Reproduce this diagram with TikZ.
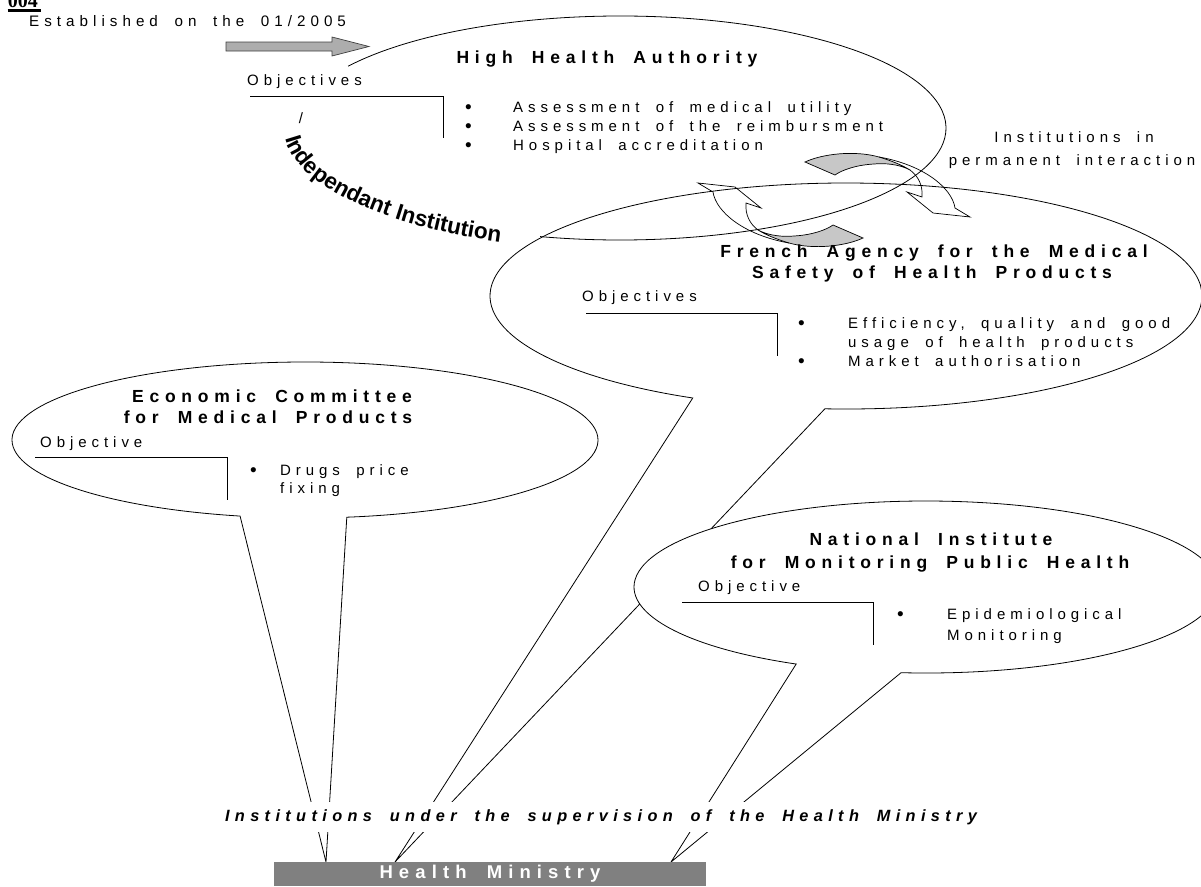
\documentclass[tikz,border=0pt]{standalone}
\usepackage{fontspec}
\setmainfont{Liberation Sans}
\newfontfamily\spacedfont[LetterSpace=33, WordSpace=1.8]{Liberation Sans}
\newfontfamily\yearfont{Liberation Serif}
\usetikzlibrary{decorations.text}

\tikzset{
  body/.style={font=\spacedfont\fontsize{15}{19}\selectfont, inner sep=0pt},
  dot/.style={font=\fontsize{19}{19}\selectfont, inner sep=0pt},
  title/.style={font=\spacedfont\bfseries\fontsize{17.5}{21}\selectfont, inner sep=0pt},
  balloon/.style={draw, line width=0.8pt},
  frame/.style={draw, line width=1pt},
}

\begin{document}
\begin{tikzpicture}[x=1pt,y=1pt]
\useasboundingbox (0,0) rectangle (1201,-886);

% Centres des bulles et pointes
\coordinate (hha-c) at (620,-128);
\coordinate (fa-c) at (846,-296);
\coordinate (ecmp-c) at (305,-440);
\coordinate (nimph-c) at (926,-587);
\coordinate (ecmp-tip) at (326,-862);
\coordinate (fa-tip) at (395,-862);
\coordinate (nimph-tip) at (671,-862);

% Bulles
\draw[balloon] ([shift={(146.5:326 and 112)}]hha-c) arc[start angle=146.5, end angle=-104.2, x radius=326, y radius=112];
\draw[balloon] ([shift={(-93.4:356 and 113)}]fa-c) arc[start angle=-93.4, end angle=244.5, x radius=356, y radius=113] -- (fa-tip) -- cycle;
\draw[balloon, fill=white] ([shift={(-81.8:293 and 78)}]ecmp-c) arc[start angle=-81.8, end angle=257.2, x radius=293, y radius=78] -- (ecmp-tip) -- cycle;
\draw[balloon, fill=white] ([shift={(-94.9:292 and 86)}]nimph-c) arc[start angle=-94.9, end angle=243.6, x radius=292, y radius=86] -- (nimph-tip) -- cycle;

\path[decorate, decoration={text along path, text align=left,
  text={|\bfseries\fontsize{22.5}{26}\selectfont|Independant Institution}}]
  ([shift={(185:336 and 122)}]hha-c) arc[start angle=185, end angle=265, x radius=336, y radius=122];

% Fleches courbes
\foreach \rot in {0,180}{
\begin{scope}[shift={(834,-200)}, rotate=\rot, line width=0.7pt]
  \filldraw[fill=black!22] (-29,38) .. controls (-12,46) and (20,50) .. (45,43) .. controls (58,39) and (68,35) .. (76,30)
    .. controls (65,36) and (50,37) .. (40,36) .. controls (22,35) and (8,30) .. (1,25) -- cycle;
  \draw (45,43) .. controls (90,35) and (118,12) .. (121,-8) -- (136,-17) -- (99,-13) -- (73,8) -- (88,3)
    .. controls (89,15) and (84,24) .. (76,30);
\end{scope}
}

% Fleche grise
\filldraw[fill=black!32, draw=black!75, line width=0.7pt] (226,-42) -- (332,-42) -- (332,-37) -- (369,-46.5) -- (332,-56) -- (332,-51) -- (226,-51) -- cycle;

\node[anchor=base east, inner sep=0pt, font=\yearfont\bfseries\fontsize{20}{22}\selectfont] (year) at (38,-7) {004};
\draw[line width=2.5] ([yshift=-3.5]year.base west) -- ([xshift=3, yshift=-3.5]year.base east);
\node[anchor=base west, font=\spacedfont\fontsize{15.2}{19}\selectfont, inner sep=0pt] (established) at (29,-26.5) {Established on the 01/2005};

% High Health Authority
\node[title, anchor=base] (hha) at (607,-63) {High Health Authority};
\node[body, anchor=base west] (hha-obj) at (247,-85) {Objectives};
\draw[frame] (250,-96) -| (443,-138);
\node[font=\fontsize{15}{18}\selectfont, inner sep=0pt] (slash) at (301,-118) {/};
\node[dot, anchor=base west] (hha-d1) at (465,-113.5) {\textbullet};
\node[dot, anchor=base west] (hha-d2) at (465,-132.5) {\textbullet};
\node[dot, anchor=base west] (hha-d3) at (465,-151.5) {\textbullet};
\node[body, anchor=base west] (hha-l1) at (513,-112.5) {Assessment of medical utility};
\node[body, anchor=base west] (hha-l2) at (513,-131.5) {Assessment of the reimbursment};
\node[body, anchor=base west] (hha-l3) at (513,-150.5) {Hospital accreditation};

\node[body, anchor=base] (inter1) at (1074,-142.5) {Institutions in};
\node[body, anchor=base] (inter2) at (1072,-165) {permanent interaction};

% French Agency
\node[title, anchor=base] (fa1) at (934,-257) {French Agency for the Medical};
\node[title, anchor=base] (fa2) at (932,-278) {Safety of Health Products};
\node[body, anchor=base west] (fa-obj) at (582,-301.5) {Objectives};
\draw[frame] (586,-313) -| (777,-356);
\node[dot, anchor=base west] (fa-d1) at (798,-329.5) {\textbullet};
\node[dot, anchor=base west] (fa-d3) at (798,-367.5) {\textbullet};
\node[body, anchor=base west] (fa-l1) at (848,-328.5) {Efficiency, quality and good};
\node[body, anchor=base west] (fa-l2) at (848,-347.5) {usage of health products};
\node[body, anchor=base west] (fa-l3) at (848,-366.5) {Market authorisation};

% Economic Committee
\node[title, anchor=base] (ecmp1) at (272,-402) {Economic Committee};
\node[title, anchor=base] (ecmp2) at (268,-423) {for Medical Products};
\node[body, anchor=base west] (ecmp-obj) at (40,-447.5) {Objective};
\draw[frame] (35,-457) -| (227,-500);
\node[dot, anchor=base west] (ecmp-d1) at (250,-476.5) {\textbullet};
\node[body, anchor=base west] (ecmp-l1) at (280,-475.5) {Drugs price};
\node[body, anchor=base west] (ecmp-l2) at (280,-493.5) {fixing};

% National Institute
\node[title, anchor=base] (nimph1) at (931,-545) {National Institute};
\node[title, anchor=base] (nimph2) at (930,-568) {for Monitoring Public Health};
\node[body, anchor=base west] (nimph-obj) at (698,-591.5) {Objective};
\draw[frame] (682,-602) -| (873,-645);
\node[dot, anchor=base west] (nimph-d1) at (897,-620.5) {\textbullet};
\node[body, anchor=base west] (nimph-l1) at (947,-619.5) {Epidemiological};
\node[body, anchor=base west] (nimph-l2) at (947,-640.5) {Monitoring};

% Ministere
\node[fill=white, inner xsep=2pt, inner ysep=0pt, minimum height=30, font=\spacedfont\bfseries\itshape\fontsize{16.3}{20}\selectfont] (supervision) at (601,-817) {Institutions under the supervision of the Health Ministry};
\node[fill=black!50, text=white, minimum width=432, minimum height=24, inner sep=0pt, font=\spacedfont\bfseries\fontsize{18.5}{20}\selectfont] (ministry) at (490,-874) {Health Ministry};

\end{tikzpicture}
\end{document}
